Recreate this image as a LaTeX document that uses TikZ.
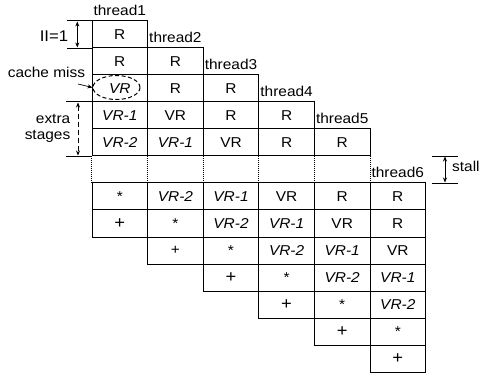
\documentclass[tikz,border=0pt]{standalone}
\usepackage{fontspec}
\setmainfont{Liberation Sans}[FakeStretch=1.08]
\usetikzlibrary{arrows.meta,shapes.geometric}

\tikzset{
  cell/.style={draw,line width=1pt,minimum width=55.6pt,minimum height=27pt,inner sep=0pt,font=\fontsize{14.3}{15}\selectfont},
  gapcell/.style={minimum width=55.6pt,minimum height=27pt,inner sep=0pt},
  lab/.style={anchor=base,inner sep=0pt,font=\fontsize{14.3}{15}\selectfont},
  note/.style={inner sep=0pt,align=right,font=\fontsize{14.3}{15.5}\selectfont},
  arr/.style={line width=0.7pt,-{Stealth[length=5pt,width=4pt]}},
  dbl/.style={line width=0.7pt,{Stealth[length=5pt,width=4pt]}-{Stealth[length=5pt,width=4pt]}},
}
\newcommand{\pls}{{\fontsize{17}{17}\selectfont +}}

\begin{document}
\begin{tikzpicture}[x=1pt,y=-1pt]
    \useasboundingbox (0,0) rectangle (485,377);

    % thread1
    \node[cell](t1r1) at (119.8,34.5) {R};
    \node[cell](t1r2) at (119.8,61.5) {R};
    \node[cell](t1r3) at (119.8,88.5) {\textit{VR}};
    \node[cell](t1r4) at (119.8,115.5) {\textit{VR-1}};
    \node[cell](t1r5) at (119.8,142.5) {\textit{VR-2}};
    \node[cell](t1r7) at (119.8,196.5) {*};
    \node[cell](t1r8) at (119.8,223.5) {\pls};

    % thread2
    \node[cell](t2r2) at (175.4,61.5) {R};
    \node[cell](t2r3) at (175.4,88.5) {R};
    \node[cell](t2r4) at (175.4,115.5) {VR};
    \node[cell](t2r5) at (175.4,142.5) {\textit{VR-1}};
    \node[cell](t2r7) at (175.4,196.5) {\textit{VR-2}};
    \node[cell](t2r8) at (175.4,223.5) {*};
    \node[cell](t2r9) at (175.4,250.5) {+};

    % thread3
    \node[cell](t3r3) at (231.0,88.5) {R};
    \node[cell](t3r4) at (231.0,115.5) {R};
    \node[cell](t3r5) at (231.0,142.5) {VR};
    \node[cell](t3r7) at (231.0,196.5) {\textit{VR-1}};
    \node[cell](t3r8) at (231.0,223.5) {\textit{VR-2}};
    \node[cell](t3r9) at (231.0,250.5) {*};
    \node[cell](t3r10) at (231.0,277.5) {\pls};

    % thread4
    \node[cell](t4r4) at (286.6,115.5) {R};
    \node[cell](t4r5) at (286.6,142.5) {R};
    \node[cell](t4r7) at (286.6,196.5) {VR};
    \node[cell](t4r8) at (286.6,223.5) {\textit{VR-1}};
    \node[cell](t4r9) at (286.6,250.5) {\textit{VR-2}};
    \node[cell](t4r10) at (286.6,277.5) {*};
    \node[cell](t4r11) at (286.6,304.5) {\pls};

    % thread5
    \node[cell](t5r5) at (342.2,142.5) {R};
    \node[cell](t5r7) at (342.2,196.5) {R};
    \node[cell](t5r8) at (342.2,223.5) {VR};
    \node[cell](t5r9) at (342.2,250.5) {\textit{VR-1}};
    \node[cell](t5r10) at (342.2,277.5) {\textit{VR-2}};
    \node[cell](t5r11) at (342.2,304.5) {*};
    \node[cell](t5r12) at (342.2,331.5) {\pls};

    % thread6
    \node[cell](t6r7) at (397.8,196.5) {R};
    \node[cell](t6r8) at (397.8,223.5) {R};
    \node[cell](t6r9) at (397.8,250.5) {VR};
    \node[cell](t6r10) at (397.8,277.5) {\textit{VR-1}};
    \node[cell](t6r11) at (397.8,304.5) {\textit{VR-2}};
    \node[cell](t6r12) at (397.8,331.5) {*};
    \node[cell](t6r13) at (397.8,358.5) {\pls};

    % gap row
    \node[gapcell](g1) at (119.8,169.5) {};
    \node[gapcell](g2) at (175.4,169.5) {};
    \node[gapcell](g3) at (231.0,169.5) {};
    \node[gapcell](g4) at (286.6,169.5) {};
    \node[gapcell](g5) at (342.2,169.5) {};
    \draw[line width=1pt,densely dotted](g1.north west)--(g1.south west);
    \draw[line width=1pt,densely dotted](g2.north west)--(g2.south west);
    \draw[line width=1pt,densely dotted](g3.north west)--(g3.south west);
    \draw[line width=1pt,densely dotted](g4.north west)--(g4.south west);
    \draw[line width=1pt,densely dotted](g5.north west)--(g5.south west);
    \draw[line width=1pt,densely dotted](g5.north east)--(g5.south east);

    % labels
    \node[lab](lab1) at (119.8,15.5) {thread1};
    \node[lab](lab2) at (175.4,43) {thread2};
    \node[lab](lab3) at (231.0,70) {thread3};
    \node[lab](lab4) at (286.6,97) {thread4};
    \node[lab](lab5) at (342.2,124) {thread5};
    \node[lab](lab6) at (397.8,178) {thread6};

    % II=1
    \node[note,font=\fontsize{15.5}{16}\selectfont](ii) at (54,36) {II=1};
    \draw[line width=0.7pt](t1r1.north west)--++(-25,0);
    \draw[line width=0.7pt](t1r1.south west)--++(-25,0);
    \draw[dbl](77.3,21.5)--(77.3,47.5);

    % cache miss
    \node[note](cm) at (46.5,72) {cache miss};
    \node[ellipse,draw,line width=1pt,dash pattern=on 4pt off 2.5pt,minimum width=47pt,minimum height=24pt](miss) at (116.5,87.5) {};
    \coordinate(cmtail) at (78,84);
    \draw[arr](cmtail)--(miss.west);

    % extra stages
    \node[note](ex) at (47.5,128.5) {extra\\stages};
    \draw[line width=0.7pt](t1r4.north west)--++(-26,0);
    \draw[line width=0.7pt](t1r5.south west)--++(-26,0);
    \draw[dbl,dash pattern=on 5pt off 3pt](78,102.5)--(78,155.5);

    % stall
    \coordinate(st1) at (432,156);
    \coordinate(st2) at (432,183);
    \draw[line width=0.7pt](st1)--++(26,0);
    \draw[line width=0.7pt](st2)--++(26,0);
    \draw[dbl](445,156.5)--(445,182.5);
    \node[note,anchor=west](stall) at (452,166) {stall};
\end{tikzpicture}
\end{document}
